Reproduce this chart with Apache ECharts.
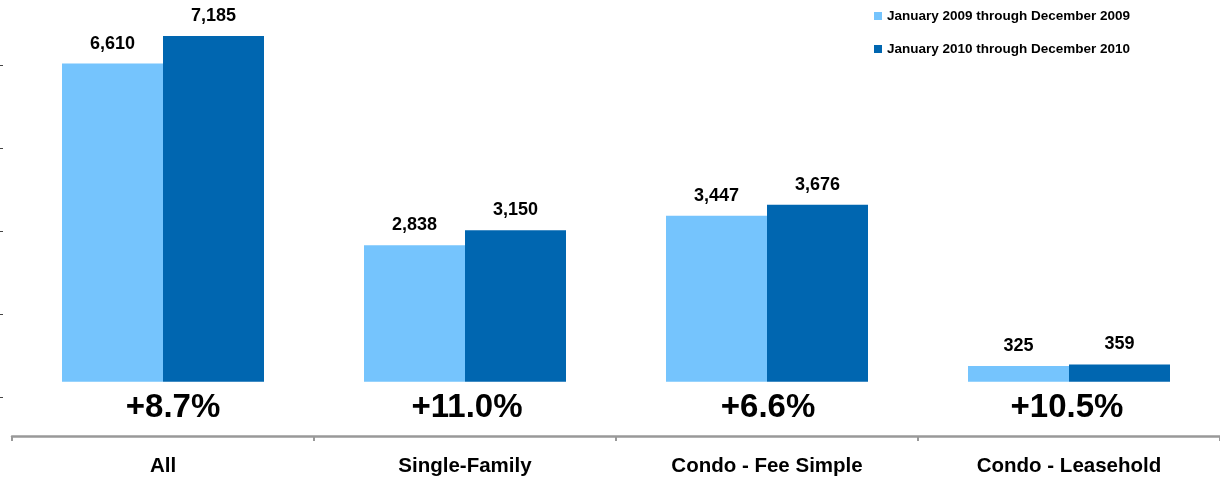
<!DOCTYPE html>
<html>
<head>
<meta charset="utf-8">
<script src="https://cdn.jsdelivr.net/npm/echarts@6/dist/echarts.min.js"></script>
<style>
html,body{margin:0;padding:0;background:#fff;}
#chart{width:1220px;height:481px;}
</style>
</head>
<body>
<div id="chart"></div>
<script>
var categories = ['All', 'Single-Family', 'Condo - Fee Simple', 'Condo - Leasehold'];
var series2009 = [6610, 2838, 3447, 325];
var series2010 = [7185, 3150, 3676, 359];
var pctLabels = ['+8.7%', '+11.0%', '+6.6%', '+10.5%'];
var legendNames = ['January 2009 through December 2009', 'January 2010 through December 2010'];
var leftTicks = [0, 1, 2, 3, 4];

var FONT = '"Liberation Sans", Arial, Helvetica, sans-serif';
function fmt(v) { return String(v).replace(/\B(?=(\d{3})+(?!\d))/g, ','); }

var pctY = -546;
var pctDx = [10, 2, 1, -2];
var chart = echarts.init(document.getElementById('chart'));
chart.setOption({
  animation: false,
  backgroundColor: '#ffffff',
  textStyle: { fontFamily: FONT },
  legend: {
    orient: 'vertical',
    left: 869,
    top: 3,
    itemWidth: 8,
    itemHeight: 8,
    itemGap: 17,
    icon: 'rect',
    data: legendNames,
    textStyle: { fontFamily: FONT, fontWeight: 'bold', fontSize: 13.5, color: '#000', lineHeight: 16 }
  },
  grid: [
    { left: 12, right: 0, top: 0, bottom: 45, containLabel: false },
    { left: 3, top: 65, height: 332, width: 10 }
  ],
  xAxis: [
    {
      type: 'category',
      data: categories,
      gridIndex: 0,
      axisLine: { onZero: false, lineStyle: { color: '#999999', width: 2.5 } },
      axisTick: { show: true, alignWithLabel: false, length: 5, lineStyle: { color: '#999999', width: 2 } },
      axisLabel: { margin: 20, fontFamily: FONT, fontWeight: 'bold', fontSize: 20.5, color: '#000' }
    },
    { type: 'value', gridIndex: 1, show: false, min: 0, max: 1 }
  ],
  yAxis: [
    { type: 'value', gridIndex: 0, min: -1128, max: 7932, show: false },
    {
      type: 'value', gridIndex: 1, min: 0, max: 4, interval: 1,
      axisLine: { show: false },
      axisTick: { show: true, length: 3, lineStyle: { color: '#444', width: 1 } },
      axisLabel: { show: false },
      splitLine: { show: false }
    }
  ],
  series: [
    {
      name: legendNames[0],
      type: 'bar',
      data: series2009,
      barWidth: 101,
      barGap: '0%',
      itemStyle: { color: '#75C4FD' },
      label: { show: true, position: 'top', distance: 11, formatter: function (p) { return fmt(p.value); },
        fontFamily: FONT, fontWeight: 'bold', fontSize: 18, color: '#000' }
    },
    {
      name: legendNames[1],
      type: 'bar',
      data: series2010,
      barWidth: 101,
      barGap: '0%',
      itemStyle: { color: '#0066B0' },
      label: { show: true, position: 'top', distance: 11, formatter: function (p) { return fmt(p.value); },
        fontFamily: FONT, fontWeight: 'bold', fontSize: 18, color: '#000' }
    },
    {
      type: 'custom',
      silent: true,
      data: pctLabels.map(function (t, i) { return [i, pctY]; }),
      renderItem: function (params, api) {
        var p = api.coord([api.value(0), api.value(1)]);
        var i = params.dataIndex;
        return {
          type: 'text',
          style: {
            text: pctLabels[i],
            x: p[0] + pctDx[i],
            y: p[1],
            align: 'center',
            verticalAlign: 'middle',
            font: 'bold 33px ' + FONT,
            fill: '#000000'
          }
        };
      }
    },
    {
      type: 'scatter', xAxisIndex: 1, yAxisIndex: 1, silent: true, symbolSize: 0,
      data: leftTicks.map(function (v) { return [0, v]; })
    }
  ]
});
</script>
</body>
</html>
